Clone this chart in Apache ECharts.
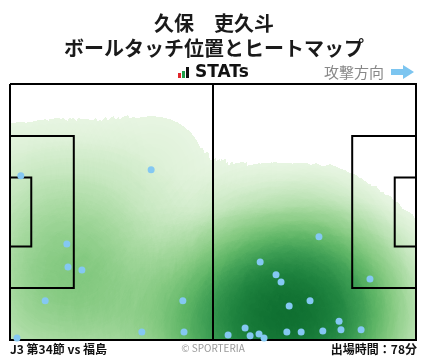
<!DOCTYPE html>
<html>
<head>
<meta charset="utf-8">
<script src="https://cdn.jsdelivr.net/npm/echarts@6/dist/echarts.min.js"></script>
<style>
html,body{margin:0;padding:0;background:#fff;}
#chart{width:428px;height:359px;}
</style>
</head>
<body>
<div id="chart"></div>
<script>
// Pitch size in metres (x: own goal -> attacking goal, y: top -> bottom)
const pitchLength = 105;
const pitchWidth = 68;

// Ball touch positions (metres)
const touchX = [36.5, 2.8, 14.7, 15.0, 18.6, 9.1, 1.8, 34.1, 44.7, 45.0,
                64.7, 68.8, 70.1, 72.2, 77.6, 79.9, 93.1, 85.1, 85.6, 90.8,
                80.9, 75.3, 71.6, 60.8, 56.4, 62.1, 64.4, 65.7];
const touchY = [22.8, 24.4, 42.5, 48.6, 49.4, 57.6, 67.5, 65.9, 57.6, 65.9,
                47.3, 50.7, 52.6, 59.0, 57.6, 40.6, 51.8, 63.0, 65.3, 65.3,
                65.6, 65.9, 65.9, 64.8, 66.7, 66.9, 66.4, 67.5];

// Pitch markings (metres)
const pitchOutline = [[0,0],[105,0],[105,68],[0,68],[0,0]];
const halfwayLine = [[52.5,0],[52.5,68]];
const leftPenaltyBox = [[0,13.84],[16.5,13.84],[16.5,54.16],[0,54.16]];
const leftGoalArea = [[0,24.84],[5.5,24.84],[5.5,43.16],[0,43.16]];
const rightPenaltyBox = [[105,13.84],[88.5,13.84],[88.5,54.16],[105,54.16]];
const rightGoalArea = [[105,24.84],[99.5,24.84],[99.5,43.16],[105,43.16]];

// Texts
const playerName = '久保　吏久斗';
const chartTitle = 'ボールタッチ位置とヒートマップ';
const matchLabel = 'J3 第34節 vs 福島';
const minutesLabel = '出場時間：78分';

const touches = touchX.map((x, i) => [x, touchY[i]]);

echarts.registerMap('pitch', {
  type: 'FeatureCollection',
  features: [{
    type: 'Feature', properties: { name: 'pitch' },
    geometry: { type: 'Polygon', coordinates: [[[0,0],[pitchLength,0],[pitchLength,-pitchWidth],[0,-pitchWidth],[0,0]]] }
  }]
});

const box = { left: 10, top: 84, width: 406, height: 256 };
const FONT = '"Noto Sans CJK JP", "Noto Sans", sans-serif';

const chart = echarts.init(document.getElementById('chart'), null, { renderer: 'canvas' });

chart.setOption({
  animation: false,
  backgroundColor: '#fff',
  title: {
    text: playerName + '\n' + chartTitle,
    left: 'center', top: 6,
    textStyle: { fontFamily: FONT, fontSize: 20, fontWeight: 'bold', color: '#1a1a1a', lineHeight: 25 }
  },
  geo: {
    map: 'pitch',
    left: box.left, top: box.top, width: box.width, height: box.height,
    aspectScale: (box.width / box.height) / (pitchLength / pitchWidth),
    roam: false, silent: true,
    label: { show: false },
    itemStyle: { areaColor: '#ffffff', borderWidth: 0 },
    emphasis: { disabled: true }
  },
  grid: { left: box.left, top: box.top, width: box.width, height: box.height, containLabel: false },
  xAxis: { type: 'value', min: 0, max: pitchLength, show: false },
  yAxis: { type: 'value', min: 0, max: pitchWidth, inverse: true, show: false },
  visualMap: {
    type: 'continuous', show: false, seriesIndex: 0,
    min: 0, max: 1.6, range: [0.12, 1.6],
    inRange: { color: ['#f4fbf1','#e2f3dc','#c6e7bf','#a6d99f','#86ca82','#62b768','#3e9e54','#1f833f','#0b6a2d','#025424','#00441b'] },
    outOfRange: { color: ['rgba(255,255,255,0)'] }
  },
  series: [
    {
      type: 'heatmap', coordinateSystem: 'geo',
      data: touches.map(p => [p[0], -p[1], 1]),
      pointSize: 35, blurSize: 110, minOpacity: 1, maxOpacity: 1,
      silent: true, z: 2
    },
    {
      type: 'lines', coordinateSystem: 'cartesian2d', polyline: true, silent: true, z: 5,
      lineStyle: { color: '#000', width: 2, opacity: 1 },
      data: [pitchOutline, halfwayLine, leftPenaltyBox, leftGoalArea, rightPenaltyBox, rightGoalArea]
        .map(c => ({ coords: c }))
    },
    {
      type: 'scatter', coordinateSystem: 'cartesian2d', z: 10,
      symbolSize: 7,
      itemStyle: { color: '#84c8f2', opacity: 1 },
      data: touches, silent: true
    }
  ],
  graphic: [
    { type: 'rect', shape: { x: 178, y: 73, width: 3, height: 5 }, style: { fill: '#e0262b' } },
    { type: 'rect', shape: { x: 182, y: 71, width: 3, height: 7 }, style: { fill: '#20a04a' } },
    { type: 'rect', shape: { x: 186, y: 67, width: 3, height: 11 }, style: { fill: '#111' } },
    { type: 'text', x: 195, y: 73, style: { text: 'STATs', font: 'bold 17px "DejaVu Sans", sans-serif', fill: '#111', verticalAlign: 'middle' } },
    { type: 'text', x: 384, y: 72, style: { text: '攻撃方向', font: '15px ' + FONT, fill: '#888', align: 'right', verticalAlign: 'middle' } },
    { type: 'polygon', shape: { points: [[391,69],[403,69],[403,65],[414,72],[403,79],[403,75],[391,75]] }, style: { fill: '#7cc5f0' } },
    { type: 'text', x: 10, y: 349, style: { text: matchLabel, font: 'bold 12px ' + FONT, fill: '#111', verticalAlign: 'middle' } },
    { type: 'text', x: 213, y: 348, style: { text: '© SPORTERIA', font: '10px ' + FONT, fill: '#999', align: 'center', verticalAlign: 'middle' } },
    { type: 'text', x: 417, y: 349, style: { text: minutesLabel, font: 'bold 12px ' + FONT, fill: '#111', align: 'right', verticalAlign: 'middle' } }
  ]
});
</script>
</body>
</html>
